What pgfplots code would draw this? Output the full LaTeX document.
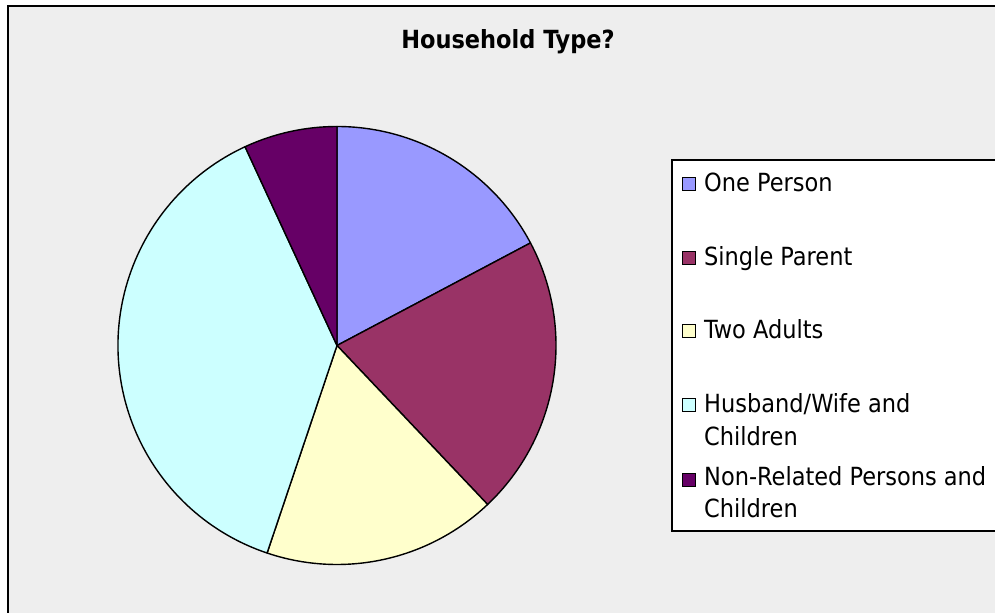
\documentclass[border=0pt]{standalone}
\usepackage{pgfplots}
\usepackage{pgfplotstable}
\pgfplotsset{compat=1.18}
\usepackage{fontspec}
\setmainfont{DejaVu Sans Condensed}
\definecolor{c1}{HTML}{9999FF}
\definecolor{c2}{HTML}{993366}
\definecolor{c3}{HTML}{FFFFCC}
\definecolor{c4}{HTML}{CCFFFF}
\definecolor{c5}{HTML}{660066}
\definecolor{bg}{HTML}{EEEEEE}
\pgfplotstableread[col sep=comma]{
label,value
One Person,5
Single Parent,6
Two Adults,5
Husband/Wife and Children,11
Non-Related Persons and Children,2
}\piedata
\begin{document}
\begin{tikzpicture}
\useasboundingbox (0,0) rectangle (995bp,613bp);
\clip (0,0) rectangle (995bp,613bp);
\begin{axis}[at={(0,0)}, anchor=south west, width=995bp, height=613bp,
  scale only axis, xmin=0, xmax=995, ymin=0, ymax=613, hide axis, clip=false]
\addplot[draw=none] coordinates {(0,0)};
\pgfplotsextra{
  % background frame
  \filldraw[fill=bg, draw=black, line width=2.3bp] (axis cs:8,-20) rectangle (axis cs:1020,607);
  % title
  \node[anchor=base, font=\bfseries\fontsize{25bp}{29bp}\selectfont] at (axis cs:508,564) {Household Type?};
  % pie
  \gdef\total{0}
  \pgfplotstableforeachcolumnelement{value}\of\piedata\as\v{%
    \pgfmathsetmacro\tmp{\total+\v}\global\let\total\tmp}
  \gdef\cumul{0}
  \foreach \i/\col in {0/c1,1/c2,2/c3,3/c4,4/c5}{
    \pgfplotstablegetelem{\i}{value}\of\piedata
    \pgfmathsetmacro\sa{90-360*\cumul/\total}
    \pgfmathsetmacro\ea{90-360*(\cumul+\pgfplotsretval)/\total}
    \filldraw[fill=\col, draw=black, line width=1.4bp, line join=round]
      (axis cs:337,267.5) -- ++(\sa:219bp) arc[start angle=\sa, end angle=\ea, radius=219bp] -- cycle;
    \pgfmathsetmacro\tmp{\cumul+\pgfplotsretval}\global\let\cumul\tmp
  }
  % legend
  \filldraw[fill=white, draw=black, line width=1.5bp] (axis cs:672,82) rectangle (axis cs:1020,453);
  \foreach \yc/\yb/\col/\txt in {429/421/c1/{One Person}, 355/347/c2/{Single Parent}, 282/274/c3/{Two Adults}, 208/200/c4/{Husband/Wife and}, 133/127/c5/{Non-Related Persons and}}{
    \filldraw[fill=\col, draw=black, line width=1.1bp] (axis cs:682.5,\yc-6.5) rectangle (axis cs:695.5,\yc+6.5);
    \node[anchor=base west, inner sep=0pt, font=\fontsize{25bp}{29bp}\selectfont] at (axis cs:704,\yb) {\txt};
  }
  \node[anchor=base west, inner sep=0pt, font=\fontsize{25bp}{29bp}\selectfont] at (axis cs:704,167) {Children};
  \node[anchor=base west, inner sep=0pt, font=\fontsize{25bp}{29bp}\selectfont] at (axis cs:704,95) {Children};
}
\end{axis}
\end{tikzpicture}
\end{document}
